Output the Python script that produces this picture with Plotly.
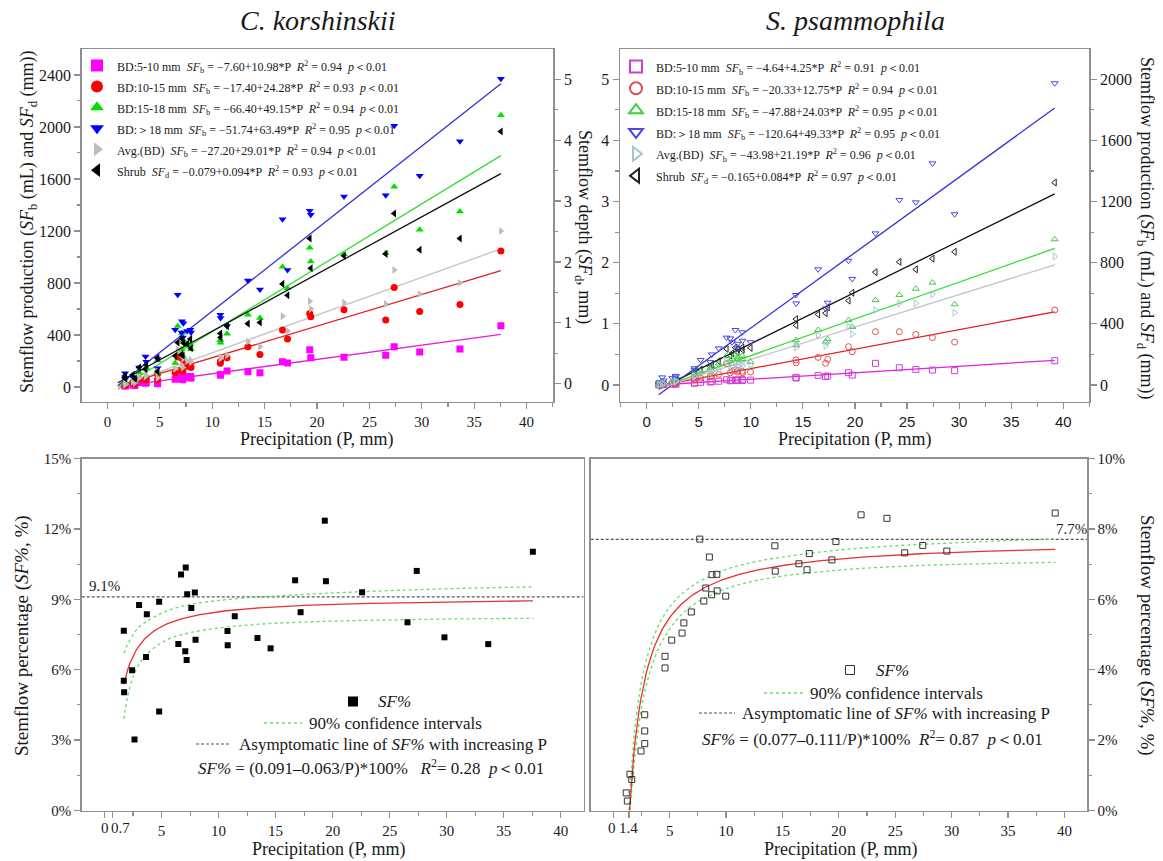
import numpy as np
import plotly.graph_objects as go

W, H = 1163, 861
SERIF = "Liberation Serif"
SANS = "Liberation Sans"
FRAME = "#8f8f8f"
TXT = "#1a1a1a"

# ================= C. korshinskii (top-left / bottom-left) =================
P_ck = [1.69, 1.69, 1.72, 2.42, 2.63, 3.03, 3.64, 3.71, 4.79, 4.79, 6.47, 6.71, 7.08, 7.12, 7.20, 7.25,
        7.61, 7.92, 7.98, 10.78, 10.80, 11.42, 13.41, 14.56, 16.71, 17.19, 19.31, 19.41, 22.58, 26.56,
        27.37, 29.80, 33.64, 37.55]
ck_bd5_10 = [12, 8, 10, 15, 12, 35, 28, 35, 45, 25, 60, 90, 65, 95, 55, 80, 75, 80, 70, 97, 90, 123,
             118, 110, 195, 185, 287, 225, 228, 245, 310, 270, 292, 471]
ck_bd10_15 = [20, 15, 18, 30, 25, 60, 55, 65, 100, 55, 110, 230, 130, 220, 120, 180, 160, 165, 150, 182,
              200, 225, 310, 250, 438, 370, 565, 540, 595, 515, 765, 580, 635, 1045]
ck_bd15_18 = [35, 25, 30, 55, 45, 110, 140, 150, 205, 110, 185, 470, 290, 415, 240, 360, 320, 330, 290,
              360, 340, 410, 555, 530, 925, 760, 1070, 965, 1020, 1030, 1540, 1210, 1350, 2090]
ck_bd18 = [105, 60, 70, 75, 60, 150, 235, 195, 215, 145, 440, 710, 420, 505, 380, 490, 430, 440, 420,
           555, 530, 470, 820, 750, 1290, 900, 1355, 1325, 1465, 1475, 2010, 1625, 1890, 2370]
ck_avg = [25, 20, 22, 40, 32, 70, 80, 90, 120, 70, 140, 290, 170, 250, 150, 220, 200, 210, 190, 230,
          220, 245, 350, 310, 545, 430, 660, 600, 650, 640, 900, 715, 800, 1200]
ck_shrub_mm = [0.129, 0.093, 0.087, 0.145, 0.080, 0.265, 0.238, 0.310, 0.426, 0.202, 0.459, 0.675,
               0.481, 0.738, 0.462, 0.668, 0.657, 0.736, 0.581, 0.825, 0.760, 0.946, 0.986, 1.006,
               1.639, 1.453, 2.385, 1.896, 2.100, 2.130, 2.795, 2.199, 2.385, 4.142]
ck_sfpct = [7.66, 5.53, 5.04, 5.98, 3.03, 8.76, 6.54, 8.36, 8.90, 4.22, 7.09, 10.06, 6.79, 10.36, 6.41,
            9.22, 8.63, 9.29, 7.28, 7.65, 7.04, 8.28, 7.35, 6.91, 9.81, 8.45, 12.35, 9.77, 9.30, 8.02,
            10.21, 7.38, 7.09, 11.03]
# regression coefficients printed in the legend: intercept, slope
ck_intercepts = [-7.60, -17.40, -66.40, -51.74, -27.20, -0.079]
ck_slopes = [10.98, 24.28, 49.15, 63.49, 29.01, 0.094]
ck_fit_range = [1.0, 37.55]
ck_pct_a, ck_pct_b = 0.091, 0.063
ck_asym = 9.1
ck_ci_P = [1.7, 2.0, 2.5, 3.0, 3.5, 4.0, 5.0, 6.0, 7.5, 10, 12.5, 15, 20, 25, 30, 37.6]
ck_ci_up = [6.7, 7.05, 7.5, 7.8, 8.0, 8.15, 8.4, 8.6, 8.78, 8.95, 9.06, 9.14, 9.27, 9.37, 9.45, 9.53]
ck_ci_lo = [3.9, 4.8, 5.7, 6.2, 6.55, 6.8, 7.15, 7.38, 7.58, 7.78, 7.9, 7.98, 8.07, 8.12, 8.16, 8.19]

# ================= S. psammophila (top-right / bottom-right) =================
P_sp = [1.15, 1.25, 1.48, 1.64, 2.46, 2.79, 2.79, 2.79, 4.59, 4.59, 5.18, 6.10, 6.26, 6.92, 7.67, 8.03,
        8.20, 8.52, 8.72, 8.75, 9.18, 9.21, 9.97, 14.33, 14.36, 16.46, 17.18, 17.38, 19.38, 19.74,
        21.97, 24.26, 25.84, 27.44, 29.57, 39.18]
sp_bd5_10 = [1, 2, 3, 3, 6, 8, 6, 9, 14, 12, 18, 20, 22, 25, 35, 28, 30, 34, 29, 32, 35, 30, 32, 50, 46,
             63, 55, 59, 81, 65, 142, 113, 102, 98, 94, 159]
sp_bd10_15 = [3, 4, 8, 6, 12, 15, 12, 18, 40, 35, 45, 55, 60, 70, 140, 80, 90, 100, 85, 95, 90, 80, 85,
              164, 146, 181, 142, 168, 251, 218, 349, 349, 331, 310, 281, 491]
sp_bd15_18 = [5, 8, 15, 12, 25, 35, 30, 40, 80, 70, 90, 110, 120, 140, 190, 160, 170, 200, 165, 180, 190,
              170, 152, 294, 260, 360, 284, 300, 425, 380, 556, 589, 630, 670, 528, 953]
sp_bd18 = [10, 20, 50, 30, 45, 60, 40, 55, 110, 100, 164, 150, 200, 240, 310, 305, 280, 360, 270, 240,
           345, 290, 280, 589, 534, 757, 500, 539, 813, 694, 992, 1210, 1195, 1450, 1117, 1974]
sp_avg = [3, 5, 10, 8, 18, 25, 20, 28, 60, 55, 70, 80, 90, 100, 160, 110, 120, 140, 115, 125, 140, 125,
          130, 270, 245, 327, 255, 280, 382, 334, 491, 534, 534, 593, 473, 840]
sp_shrub_mm = [0.006, 0.003, 0.015, 0.014, 0.042, 0.053, 0.063, 0.076, 0.186, 0.201, 0.251, 0.307,
               0.334, 0.390, 0.591, 0.478, 0.518, 0.613, 0.535, 0.586, 0.616, 0.575, 0.607, 1.078,
               0.976, 1.154, 1.175, 1.269, 1.380, 1.508, 1.845, 2.014, 1.891, 2.066, 2.179, 3.311]
sp_sfpct = [0.50, 0.27, 1.03, 0.88, 1.69, 1.90, 2.26, 2.72, 4.05, 4.38, 4.84, 5.04, 5.33, 5.64, 7.71,
            5.95, 6.32, 7.20, 6.13, 6.70, 6.71, 6.24, 6.09, 7.52, 6.80, 7.01, 6.84, 7.30, 7.12, 7.64,
            8.40, 8.30, 7.32, 7.53, 7.37, 8.45]
sp_intercepts = [-4.64, -20.33, -47.88, -120.64, -43.98, -0.165]
sp_slopes = [4.25, 12.75, 24.03, 49.33, 21.19, 0.084]
sp_fit_range = [1.15, 39.18]
sp_pct_a, sp_pct_b = 0.077, 0.111
sp_asym = 7.7
sp_ci_P = [1.40, 1.6, 1.8, 2.0, 2.5, 3.0, 4.0, 5.0, 6.0, 7.5, 10, 12.5, 15, 20, 25, 30, 39.2]
sp_ci_up = [0.0, 1.1, 1.95, 2.55, 3.65, 4.35, 5.25, 5.78, 6.13, 6.48, 6.85, 7.06, 7.2, 7.4, 7.52, 7.6, 7.72]
sp_ci_lo_P = [1.50, 1.6, 1.8, 2.0, 2.5, 3.0, 4.0, 5.0, 6.0, 7.5, 10, 12.5, 15, 20, 25, 30, 39.2]
sp_ci_lo = [0.0, 0.45, 1.15, 1.75, 2.9, 3.65, 4.6, 5.15, 5.55, 5.93, 6.3, 6.52, 6.66, 6.83, 6.93, 6.99, 7.05]

# ---------------- legend texts ----------------
LT = "＜"
ck_names = [
    f"BD:5-10 mm  <i>SF</i><sub>b</sub> = −7.60+10.98*P  <i>R</i><sup>2</sup> = 0.94  <i>p</i>{LT}0.01",
    f"BD:10-15 mm  <i>SF</i><sub>b</sub> = −17.40+24.28*P  <i>R</i><sup>2</sup> = 0.93  <i>p</i>{LT}0.01",
    f"BD:15-18 mm  <i>SF</i><sub>b</sub> = −66.40+49.15*P  <i>R</i><sup>2</sup> = 0.94  <i>p</i>{LT}0.01",
    f"BD:＞18 mm  <i>SF</i><sub>b</sub> = −51.74+63.49*P  <i>R</i><sup>2</sup> = 0.95  <i>p</i>{LT}0.01",
    f"Avg.(BD)  <i>SF</i><sub>b</sub> = −27.20+29.01*P  <i>R</i><sup>2</sup> = 0.94  <i>p</i>{LT}0.01",
    f"Shrub  <i>SF</i><sub>d</sub> = −0.079+0.094*P  <i>R</i><sup>2</sup> = 0.93  <i>p</i>{LT}0.01",
]
sp_names = [
    f"BD:5-10 mm  <i>SF</i><sub>b</sub> = −4.64+4.25*P  <i>R</i><sup>2</sup> = 0.91  <i>p</i>{LT}0.01",
    f"BD:10-15 mm  <i>SF</i><sub>b</sub> = −20.33+12.75*P  <i>R</i><sup>2</sup> = 0.94  <i>p</i>{LT}0.01",
    f"BD:15-18 mm  <i>SF</i><sub>b</sub> = −47.88+24.03*P  <i>R</i><sup>2</sup> = 0.95  <i>p</i>{LT}0.01",
    f"BD:＞18 mm  <i>SF</i><sub>b</sub> = −120.64+49.33*P  <i>R</i><sup>2</sup> = 0.95  <i>p</i>{LT}0.01",
    f"Avg.(BD)  <i>SF</i><sub>b</sub> = −43.98+21.19*P  <i>R</i><sup>2</sup> = 0.96  <i>p</i>{LT}0.01",
    f"Shrub  <i>SF</i><sub>d</sub> = −0.165+0.084*P  <i>R</i><sup>2</sup> = 0.97  <i>p</i>{LT}0.01",
]


def small(s):
    return f'<span style="font-size:12px">{s}</span>'


ck_marker_colors = ["#ff00ff", "#ff0000", "#00e000", "#0000ff", "#bdbdbd", "#000000"]
ck_line_colors = ["#e020e0", "#e02020", "#33dd33", "#3030d8", "#c4c4c4", "#111111"]
ck_symbols = ["square", "circle", "triangle-up", "triangle-down", "triangle-right", "triangle-left"]
sp_marker_colors = ["#d040d0", "#e05050", "#40cc40", "#4848e0", "#a8c4d0", "#222222"]
sp_line_colors = ["#e020e0", "#e02020", "#33dd33", "#3030d8", "#c4c4c4", "#111111"]
sp_symbols = ["square-open", "circle-open", "triangle-up-open", "triangle-down-open",
              "triangle-right-open", "triangle-left-open"]


def px(x):
    return x / W


def py(y):
    return 1 - y / H


fig = go.Figure()

# ---------------- top-left ----------------
ck_series = [ck_bd5_10, ck_bd10_15, ck_bd15_18, ck_bd18, ck_avg, ck_shrub_mm]
for i, vals in enumerate(ck_series):
    ya = "y2" if i == 5 else "y"
    fx = np.array(ck_fit_range)
    fig.add_trace(go.Scatter(x=fx, y=ck_intercepts[i] + ck_slopes[i] * fx, mode="lines",
                             line=dict(color=ck_line_colors[i], width=1.3), xaxis="x", yaxis=ya,
                             showlegend=False, hoverinfo="skip"))
for i, vals in enumerate(ck_series):
    ya = "y2" if i == 5 else "y"
    fig.add_trace(go.Scatter(x=P_ck, y=vals, mode="markers", name=small(ck_names[i]),
                             marker=dict(symbol=ck_symbols[i], size=7, color=ck_marker_colors[i],
                                         line=dict(width=0)),
                             xaxis="x", yaxis=ya, legend="legend"))

# ---------------- top-right ----------------
sp_series = [sp_bd5_10, sp_bd10_15, sp_bd15_18, sp_bd18, sp_avg, sp_shrub_mm]
for i, vals in enumerate(sp_series):
    ya = "y3" if i == 5 else "y4"
    fx = np.array(sp_fit_range)
    fig.add_trace(go.Scatter(x=fx, y=sp_intercepts[i] + sp_slopes[i] * fx, mode="lines",
                             line=dict(color=sp_line_colors[i], width=1.3), xaxis="x2", yaxis=ya,
                             showlegend=False, hoverinfo="skip"))
for i, vals in enumerate(sp_series):
    ya = "y3" if i == 5 else "y4"
    fig.add_trace(go.Scatter(x=P_sp, y=vals, mode="markers", name=small(sp_names[i]),
                             marker=dict(symbol=sp_symbols[i], size=6, color=sp_marker_colors[i],
                                         line=dict(width=1, color=sp_marker_colors[i])),
                             xaxis="x2", yaxis=ya, legend="legend2"))

# ---------------- bottom-left ----------------
fig.add_trace(go.Scatter(x=[-2, 42], y=[ck_asym, ck_asym], mode="lines",
                         line=dict(color="#555555", width=1.2, dash="3px,2px"),
                         xaxis="x3", yaxis="y5", showlegend=False, hoverinfo="skip"))
fig.add_trace(go.Scatter(x=ck_ci_P, y=ck_ci_up, mode="lines", line=dict(color="#66dd66", width=1.3, dash="dot"),
                         xaxis="x3", yaxis="y5", showlegend=False, line_shape="spline"))
fig.add_trace(go.Scatter(x=ck_ci_P, y=ck_ci_lo, mode="lines", line=dict(color="#66dd66", width=1.3, dash="dot"),
                         xaxis="x3", yaxis="y5", showlegend=False, line_shape="spline"))
ck_curve_P = np.linspace(min(P_ck), max(P_ck), 200)
fig.add_trace(go.Scatter(x=ck_curve_P, y=(ck_pct_a - ck_pct_b / ck_curve_P) * 100, mode="lines",
                         line=dict(color="#e83030", width=1.3), xaxis="x3", yaxis="y5", showlegend=False))
fig.add_trace(go.Scatter(x=P_ck, y=ck_sfpct, mode="markers",
                         marker=dict(symbol="square", size=6, color="black"),
                         xaxis="x3", yaxis="y5", showlegend=False))

# ---------------- bottom-right ----------------
fig.add_trace(go.Scatter(x=[-2, 42], y=[sp_asym, sp_asym], mode="lines",
                         line=dict(color="#555555", width=1.2, dash="3px,2px"),
                         xaxis="x4", yaxis="y6", showlegend=False, hoverinfo="skip"))
fig.add_trace(go.Scatter(x=sp_ci_P, y=sp_ci_up, mode="lines", line=dict(color="#66dd66", width=1.3, dash="dot"),
                         xaxis="x4", yaxis="y6", showlegend=False, line_shape="spline"))
fig.add_trace(go.Scatter(x=sp_ci_lo_P, y=sp_ci_lo, mode="lines", line=dict(color="#66dd66", width=1.3, dash="dot"),
                         xaxis="x4", yaxis="y6", showlegend=False, line_shape="spline"))
sp_curve_P = np.linspace(sp_pct_b / sp_pct_a, max(P_sp), 300)
fig.add_trace(go.Scatter(x=sp_curve_P, y=(sp_pct_a - sp_pct_b / sp_curve_P) * 100, mode="lines",
                         line=dict(color="#e83030", width=1.3), xaxis="x4", yaxis="y6", showlegend=False))
fig.add_trace(go.Scatter(x=P_sp, y=sp_sfpct, mode="markers",
                         marker=dict(symbol="square-open", size=6, color="#333333", line=dict(width=1)),
                         xaxis="x4", yaxis="y6", showlegend=False))


# ---------------- axes ----------------
def ax(**kw):
    base = dict(showline=True, linecolor=FRAME, linewidth=1.5, mirror=True, ticks="outside",
                ticklen=6, tickwidth=1.2, tickcolor=FRAME, showgrid=False, zeroline=False,
                automargin=False, tickangle=0, tickfont=dict(family=SERIF, size=15, color=TXT))
    base.update(kw)
    return base


def minor(d, vals=None):
    m = dict(ticks="outside", ticklen=3.5, tickwidth=1.1, tickcolor=FRAME, showgrid=False)
    if vals is not None:
        m.update(tickmode="array", tickvals=vals)
    else:
        m.update(dtick=d, tick0=0)
    return m


TOP = [py(401.7), py(49.3)]
BOT = [py(810.5), py(458.5)]
x_ticks_b = [0, 5, 10, 15, 20, 25, 30, 35, 40]
minor_x_b = [2.5, 7.5, 12.5, 17.5, 22.5, 27.5, 32.5, 37.5]

fig.update_layout(
    xaxis=ax(domain=[px(81.7), px(553.3)], range=[-2.45, 42.55], anchor="y", dtick=5, tick0=0,
             minor=minor(2.5)),
    yaxis=ax(domain=TOP, range=[-113, 2597], anchor="x", dtick=400, tick0=0, minor=minor(200),
             tickfont=dict(family=SERIF, size=16, color=TXT)),
    yaxis2=ax(overlaying="y", side="right", range=[-0.296, 5.493], anchor="x", dtick=1, tick0=0,
              minor=minor(0.5), mirror=False, tickfont=dict(family=SERIF, size=16, color=TXT)),
    xaxis2=ax(domain=[px(620), px(1089.3)], range=[-2.56, 42.5], anchor="y3", dtick=5, tick0=0,
              minor=minor(2.5), tickfont=dict(family=SANS, size=15, color=TXT)),
    yaxis3=ax(domain=TOP, range=[-0.273, 5.49], anchor="x2", dtick=1, tick0=0, minor=minor(0.5),
              tickfont=dict(family=SERIF, size=16, color=TXT)),
    yaxis4=ax(overlaying="y3", side="right", range=[-109, 2196], anchor="x2", dtick=400, tick0=0,
              minor=minor(200), mirror=False, tickfont=dict(family=SERIF, size=16, color=TXT)),
    xaxis3=ax(domain=[px(81.7), px(583.6)], range=[-2, 42], anchor="y5", tickmode="array",
              tickvals=[0, 0.7] + x_ticks_b[1:],
              ticktext=["", ""] + [str(v) for v in x_ticks_b[1:]],
              minor=minor(None, minor_x_b)),
    yaxis5=ax(domain=BOT, range=[0, 15], anchor="x3", dtick=3, tick0=0, ticksuffix="%",
              minor=minor(1.5)),
    xaxis4=ax(domain=[px(590.7), px(1087)], range=[-2, 42], anchor="y6", tickmode="array",
              tickvals=[0, 1.4] + x_ticks_b[1:],
              ticktext=["", ""] + [str(v) for v in x_ticks_b[1:]],
              minor=minor(None, minor_x_b)),
    yaxis6=ax(domain=BOT, range=[0, 10], anchor="x4", side="right", dtick=2, tick0=0, ticksuffix="%",
              minor=minor(1)),
)

leg_common = dict(xanchor="left", yanchor="top", bgcolor="rgba(0,0,0,0)", borderwidth=0,
                  itemsizing="constant", tracegroupgap=0, traceorder="normal")
fig.update_layout(
    legend=dict(x=px(77), y=py(50), font=dict(family=SERIF, size=13.8, color=TXT), **leg_common),
    legend2=dict(x=px(616), y=py(50.5), font=dict(family=SERIF, size=14.5, color=TXT), **leg_common),
)

# ---------------- annotations ----------------
ann = []


def text(x, y, s, size=16, angle=0, xanchor="center", yanchor="middle", family=SERIF):
    ann.append(dict(x=px(x), y=py(y), xref="paper", yref="paper", text=s, showarrow=False,
                    textangle=angle, xanchor=xanchor, yanchor=yanchor,
                    font=dict(family=family, size=size, color=TXT)))


text(318, 20, "<i>C. korshinskii</i>", size=28)
text(855, 20, "<i>S. psammophila</i>", size=28)
text(316, 439, "Precipitation (P, mm)", size=18)
text(854, 439, "Precipitation (P, mm)", size=18)
text(328, 849, "Precipitation (P, mm)", size=18)
text(840, 849, "Precipitation (P, mm)", size=18)
text(28, 222, "Stemflow production (<i>SF</i><sub>b</sub> (mL) and <i>SF</i><sub>d</sub> (mm))",
     size=18, angle=-90)
text(584, 227, "Stemflow depth (<i>SF</i><sub>d</sub>, mm)", size=18, angle=90)
text(1146, 228, "Stemflow production (<i>SF</i><sub>b</sub> (mL) and <i>SF</i><sub>d</sub> (mm))",
     size=18, angle=90)
text(22, 636, "Stemflow percentage (<i>SF%</i>, %)", size=19, angle=-90)
text(1147, 635, "Stemflow percentage (<i>SF%</i>, %)", size=19, angle=90)
text(87, 586, "9.1%", size=15, xanchor="left")
text(1054, 529, "7.7%", size=15, xanchor="left")
# first x tick labels of the bottom panels (0 and the zero-crossing P)
text(104.5, 828, "0", size=15)
text(109, 828, "0.7", size=15, xanchor="left")
text(611.5, 828, "0", size=15)
text(628, 828, "1.4", size=15)

# bottom-left legend
text(376, 701, "<i>SF%</i>", size=17, xanchor="left")
text(307, 723, "90% confidence intervals", size=17, xanchor="left")
text(237, 744, "Asymptomatic line of <i>SF%</i> with increasing P", size=17, xanchor="left")
text(196, 767, f"<i>SF%</i> = (0.091–0.063/P)*100%   <i>R</i><sup>2</sup>= 0.28  <i>p</i>{LT}0.01",
     size=17, xanchor="left")
# bottom-right legend
text(874, 670, "<i>SF%</i>", size=17, xanchor="left")
text(808, 693, "90% confidence intervals", size=17, xanchor="left")
text(740, 713, "Asymptomatic line of <i>SF%</i> with increasing P", size=17, xanchor="left")
text(700, 738, f"<i>SF%</i> = (0.077–0.111/P)*100%  <i>R</i><sup>2</sup>= 0.87  <i>p</i>{LT}0.01",
     size=17, xanchor="left")

shapes = [
    dict(type="rect", xref="paper", yref="paper", x0=px(348), x1=px(358), y0=py(706.5), y1=py(696.5),
         fillcolor="black", line=dict(width=0)),
    dict(type="line", xref="paper", yref="paper", x0=px(264), x1=px(302), y0=py(723), y1=py(723),
         line=dict(color="#66dd66", width=1.3, dash="dot")),
    dict(type="line", xref="paper", yref="paper", x0=px(196), x1=px(231), y0=py(744), y1=py(744),
         line=dict(color="#555555", width=1.2, dash="3px,2px")),
    dict(type="rect", xref="paper", yref="paper", x0=px(845.5), x1=px(854.5), y0=py(674.5), y1=py(665.5),
         fillcolor="white", line=dict(width=1, color="#333333")),
    dict(type="line", xref="paper", yref="paper", x0=px(764), x1=px(803), y0=py(693), y1=py(693),
         line=dict(color="#66dd66", width=1.3, dash="dot")),
    dict(type="line", xref="paper", yref="paper", x0=px(699), x1=px(735), y0=py(713), y1=py(713),
         line=dict(color="#555555", width=1.2, dash="3px,2px")),
]

fig.update_layout(
    width=W, height=H, margin=dict(l=0, r=0, t=0, b=0, autoexpand=False),
    paper_bgcolor="white", plot_bgcolor="white",
    annotations=ann, shapes=shapes, hovermode=False,
    font=dict(family=SERIF, color=TXT),
)

POST = """
document.documentElement.style.margin='0';
document.documentElement.style.overflow='hidden';
document.body.style.margin='0';
document.body.style.overflow='hidden';
var gd = document.getElementById('{plot_id}');
gd.style.position='fixed'; gd.style.top='0px'; gd.style.left='0px';
"""

fig.write_html("out.html", config={"displayModeBar": False, "staticPlot": True}, post_script=POST)
